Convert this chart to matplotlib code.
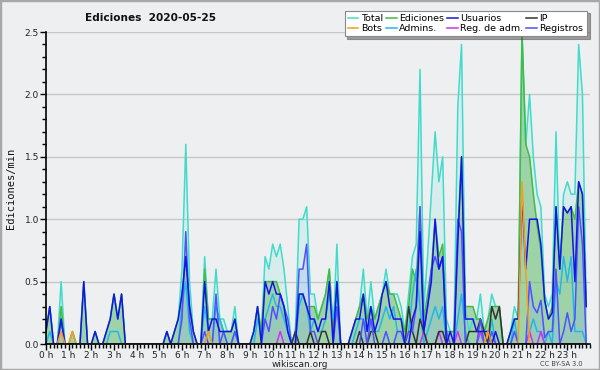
import matplotlib
matplotlib.use("Agg")
import matplotlib.pyplot as plt
import numpy as np
from matplotlib.ticker import MultipleLocator, FormatStrFormatter

# values per 10 minutes, one row per hour
total = [
    0.1, 0.3, 0, 0, 0.5, 0,
    0, 0.1, 0, 0, 0.5, 0,
    0, 0.1, 0, 0, 0.1, 0.2,
    0.4, 0.2, 0.4, 0, 0, 0,
    0, 0, 0, 0, 0, 0,
    0, 0, 0.1, 0, 0.1, 0.2,
    0.6, 1.6, 0.5, 0.1, 0, 0,
    0.7, 0.2, 0.2, 0.6, 0.2, 0.2,
    0.1, 0.1, 0.3, 0, 0, 0,
    0, 0.1, 0.3, 0.1, 0.7, 0.6,
    0.8, 0.7, 0.8, 0.6, 0.3, 0,
    0.1, 1.0, 1.0, 1.1, 0.4, 0.4,
    0.2, 0.3, 0.4, 0.6, 0.1, 0.8,
    0, 0, 0, 0.1, 0.2, 0.3,
    0.6, 0.2, 0.5, 0.2, 0.3, 0.4,
    0.6, 0.4, 0.4, 0.4, 0.3, 0.1,
    0.4, 0.7, 0.8, 2.2, 0.3, 0.7,
    1.2, 1.7, 1.3, 1.5, 0.2, 0.1,
    0.1, 1.9, 2.4, 0.3, 0.1, 0.2,
    0.2, 0.4, 0.1, 0.2, 0.4, 0.3,
    0.3, 0, 0, 0.1, 0.3, 0.2,
    2.5, 1.6, 2.0, 1.5, 1.2, 1.1,
    0.4, 0.3, 0.4, 1.7, 0.6, 1.2,
    1.3, 1.2, 1.2, 2.4, 2.0, 0.3,
]
ediciones = [
    0.1, 0.3, 0, 0, 0.3, 0,
    0, 0.1, 0, 0, 0.5, 0,
    0, 0.1, 0, 0, 0.1, 0.2,
    0.4, 0.2, 0.4, 0, 0, 0,
    0, 0, 0, 0, 0, 0,
    0, 0, 0.1, 0, 0.1, 0.2,
    0.4, 0.7, 0.3, 0.1, 0, 0,
    0.6, 0.2, 0.2, 0.2, 0.2, 0.1,
    0.1, 0.1, 0.2, 0, 0, 0,
    0, 0.1, 0.3, 0.1, 0.5, 0.5,
    0.5, 0.5, 0.4, 0.3, 0.1, 0,
    0.1, 0.4, 0.4, 0.3, 0.3, 0.3,
    0.2, 0.3, 0.4, 0.6, 0.1, 0.5,
    0, 0, 0, 0.1, 0.2, 0.3,
    0.4, 0.2, 0.3, 0.2, 0.3, 0.4,
    0.5, 0.4, 0.4, 0.3, 0.2, 0.1,
    0.3, 0.6, 0.5, 1.1, 0.2, 0.4,
    0.6, 1.0, 0.7, 0.8, 0.1, 0.1,
    0.1, 0.9, 1.5, 0.3, 0.3, 0.3,
    0.2, 0.2, 0.1, 0.2, 0.3, 0.3,
    0.3, 0, 0, 0.1, 0.2, 0.2,
    2.5, 1.6, 1.5, 1.2, 0.95, 0.75,
    0.35, 0.2, 0.3, 1.1, 0.6, 1.1,
    1.05, 1.1, 1.0, 1.3, 1.2, 0.3,
]
usuarios = [
    0.1, 0.3, 0, 0, 0.2, 0,
    0, 0, 0, 0, 0.5, 0,
    0, 0.1, 0, 0, 0.1, 0.2,
    0.4, 0.2, 0.4, 0, 0, 0,
    0, 0, 0, 0, 0, 0,
    0, 0, 0.1, 0, 0.1, 0.2,
    0.4, 0.7, 0.3, 0.1, 0, 0,
    0.5, 0.1, 0.2, 0.2, 0.1, 0.1,
    0.1, 0.1, 0.2, 0, 0, 0,
    0, 0.1, 0.3, 0, 0.5, 0.4,
    0.5, 0.4, 0.4, 0.3, 0.1, 0,
    0, 0.4, 0.4, 0.3, 0.2, 0.2,
    0.1, 0.2, 0.2, 0.5, 0, 0.5,
    0, 0, 0, 0.1, 0.2, 0.2,
    0.4, 0.1, 0.3, 0.1, 0.2, 0.4,
    0.5, 0.3, 0.2, 0.2, 0.2, 0,
    0, 0.2, 0.3, 0.9, 0.1, 0.3,
    0.5, 1.0, 0.6, 0.7, 0, 0.1,
    0, 0.8, 1.5, 0.2, 0.2, 0.2,
    0.1, 0.1, 0.1, 0.1, 0, 0.1,
    0, 0, 0, 0.1, 0.2, 0.2,
    1.2, 0.6, 1.0, 1.0, 1.0, 0.8,
    0.35, 0.2, 0.25, 1.1, 0.6, 1.1,
    1.05, 1.1, 0.5, 1.3, 1.2, 0.3,
]
ip = [
    0, 0, 0, 0, 0, 0,
    0, 0, 0, 0, 0, 0,
    0, 0, 0, 0, 0, 0,
    0, 0, 0, 0, 0, 0,
    0, 0, 0, 0, 0, 0,
    0, 0, 0, 0, 0, 0,
    0, 0, 0, 0, 0, 0,
    0, 0, 0, 0, 0, 0,
    0, 0, 0, 0, 0, 0,
    0, 0, 0, 0, 0, 0,
    0, 0, 0, 0, 0, 0,
    0.1, 0, 0, 0, 0.1, 0,
    0, 0.1, 0.1, 0, 0, 0,
    0, 0, 0, 0, 0, 0.1,
    0, 0, 0.1, 0.1, 0, 0,
    0, 0, 0, 0, 0, 0,
    0.3, 0.1, 0, 0.2, 0.1, 0,
    0, 0, 0.1, 0.1, 0, 0,
    0, 0, 0, 0, 0.1, 0.1,
    0.1, 0.2, 0.1, 0, 0.3, 0.2,
    0.3, 0, 0, 0, 0, 0,
    0, 0, 0, 0, 0, 0,
    0, 0, 0, 0, 0, 0,
    0, 0, 0, 0, 0, 0,
]
bots = [
    0, 0, 0, 0, 0.1, 0,
    0, 0.1, 0, 0, 0, 0,
    0, 0, 0, 0, 0, 0,
    0, 0, 0, 0, 0, 0,
    0, 0, 0, 0, 0, 0,
    0, 0, 0, 0, 0, 0,
    0, 0, 0, 0, 0, 0,
    0, 0.1, 0, 0, 0, 0,
    0, 0, 0, 0, 0, 0,
    0, 0, 0, 0, 0, 0,
    0, 0, 0, 0, 0, 0,
    0, 0, 0, 0, 0, 0,
    0, 0, 0, 0, 0, 0,
    0, 0, 0, 0, 0, 0,
    0, 0, 0, 0, 0, 0,
    0, 0, 0, 0, 0, 0,
    0, 0, 0, 0, 0, 0,
    0, 0, 0, 0, 0, 0,
    0, 0, 0, 0, 0, 0,
    0, 0, 0, 0.1, 0, 0,
    0, 0, 0, 0, 0, 0,
    1.3, 0.6, 0, 0, 0, 0,
    0, 0, 0, 0, 0, 0,
    0, 0, 0, 0, 0, 0,
]
admins = [
    0, 0.1, 0, 0, 0.2, 0,
    0, 0, 0, 0, 0, 0,
    0, 0, 0, 0, 0, 0.1,
    0.1, 0.1, 0, 0, 0, 0,
    0, 0, 0, 0, 0, 0,
    0, 0, 0, 0, 0, 0,
    0.3, 0.5, 0.1, 0, 0, 0,
    0.3, 0.1, 0, 0.3, 0.2, 0.1,
    0, 0, 0.1, 0, 0, 0,
    0, 0, 0.2, 0.1, 0.2, 0.3,
    0.4, 0.3, 0.3, 0.2, 0.1, 0,
    0, 0.3, 0.4, 0.3, 0.1, 0.2,
    0.1, 0.1, 0.2, 0.4, 0.2, 0.4,
    0, 0, 0, 0, 0.1, 0.2,
    0.2, 0.1, 0.2, 0.1, 0.1, 0.2,
    0.3, 0.2, 0.3, 0.1, 0.1, 0,
    0.1, 0.4, 0.6, 0.3, 0, 0.1,
    0.2, 0.3, 0.2, 0.3, 0, 0,
    0, 0.2, 0.4, 0.1, 0, 0,
    0, 0.1, 0, 0, 0.2, 0,
    0, 0, 0, 0, 0.2, 0,
    0, 0, 0.1, 0.2, 0.1, 0.1,
    0, 0.1, 0, 0.5, 0.4, 0.7,
    0.5, 0.7, 0.1, 0.1, 0.1, 0,
]
reg_adm = [
    0, 0, 0, 0, 0, 0,
    0, 0, 0, 0, 0, 0,
    0, 0, 0, 0, 0, 0,
    0, 0, 0, 0, 0, 0,
    0, 0, 0, 0, 0, 0,
    0, 0, 0, 0, 0, 0,
    0, 0, 0, 0, 0, 0,
    0, 0, 0, 0, 0, 0,
    0, 0, 0, 0, 0, 0,
    0, 0, 0, 0, 0, 0,
    0, 0, 0.1, 0, 0, 0,
    0, 0, 0, 0, 0, 0,
    0, 0, 0, 0, 0, 0,
    0, 0, 0, 0, 0, 0,
    0, 0, 0, 0, 0, 0,
    0, 0, 0, 0, 0, 0,
    0, 0, 0, 0, 0.1, 0,
    0, 0, 0.1, 0, 0, 0,
    0, 0.1, 0, 0, 0, 0,
    0, 0.1, 0, 0, 0, 0,
    0, 0, 0, 0, 0, 0,
    0, 0, 0.1, 0, 0, 0.1,
    0, 0, 0, 0, 0, 0,
    0, 0, 0, 0, 0, 0,
]
registros = [
    0, 0, 0, 0, 0.2, 0,
    0, 0, 0, 0, 0, 0,
    0, 0, 0, 0, 0, 0,
    0, 0, 0, 0, 0, 0,
    0, 0, 0, 0, 0, 0,
    0, 0, 0, 0, 0, 0,
    0.2, 0.9, 0.2, 0, 0, 0,
    0.1, 0, 0, 0.4, 0, 0.1,
    0, 0, 0.1, 0, 0, 0,
    0, 0, 0, 0, 0.2, 0.1,
    0.3, 0.2, 0.4, 0.3, 0.2, 0,
    0, 0.6, 0.6, 0.8, 0.1, 0.1,
    0, 0, 0, 0, 0, 0.3,
    0, 0, 0, 0, 0, 0,
    0.2, 0, 0.2, 0, 0, 0,
    0.1, 0, 0, 0.1, 0.1, 0,
    0.1, 0.1, 0.3, 1.1, 0.1, 0.3,
    0.6, 0.7, 0.6, 0.7, 0.1, 0,
    0, 1.0, 0.9, 0, 0, 0,
    0, 0.2, 0, 0, 0.1, 0,
    0, 0, 0, 0, 0.1, 0,
    0, 0, 0.5, 0.3, 0.25, 0.35,
    0.05, 0.1, 0.1, 0.6, 0, 0.1,
    0.25, 0.1, 0.2, 1.1, 0.8, 0,
]
hour_labels = [f"{h} h" for h in range(24)]

BG = "#eeeff1"
fig = plt.figure(figsize=(6.0, 3.7), dpi=100, facecolor=BG)
fig.patches.append(plt.Rectangle((0, 0), 1, 1, transform=fig.transFigure,
                                 fill=False, edgecolor="#a8a8a8", lw=2.5))
ax = fig.add_axes([46 / 600, 26 / 370, 544 / 600, 312 / 370])
ax.set_facecolor(BG)

x = np.arange(len(total)) / 6.0

c_total = "#40dccb"
c_ed = "#44bb44"
c_usu = "#1414e6"
c_ip = "#333333"
c_bots = "#ff9a1a"
c_adm = "#22b8e6"
c_regadm = "#cc33ee"
c_reg = "#5050ff"

ax.fill_between(x, total, color=c_total, alpha=0.13, lw=0)
ax.fill_between(x, ediciones, color="#66bb66", alpha=0.50, lw=0)
ax.fill_between(x, registros, color="#88b0ee", alpha=0.25, lw=0)

lw = 1.1
l_total, = ax.plot(x, total, color=c_total, lw=lw, label="Total")
l_ed, = ax.plot(x, ediciones, color=c_ed, lw=lw, label="Ediciones")
l_adm, = ax.plot(x, admins, color=c_adm, lw=lw, label="Admins.")
l_regadm, = ax.plot(x, reg_adm, color=c_regadm, lw=lw, label="Reg. de adm.")
l_ip, = ax.plot(x, ip, color=c_ip, lw=lw, label="IP")
l_reg, = ax.plot(x, registros, color=c_reg, lw=lw, label="Registros")
l_usu, = ax.plot(x, usuarios, color=c_usu, lw=lw, label="Usuarios")
l_bots, = ax.plot(x, bots, color=c_bots, lw=lw, label="Bots")

ax.set_xlim(0, 24)
ax.set_ylim(0, 2.5)
ax.set_xticks(range(24))
ax.set_xticklabels(hour_labels)
ax.xaxis.set_minor_locator(MultipleLocator(1 / 6))
ax.yaxis.set_major_locator(MultipleLocator(0.5))
ax.yaxis.set_minor_locator(MultipleLocator(0.1))
ax.yaxis.set_major_formatter(FormatStrFormatter("%.1f"))
ax.tick_params(axis="both", which="major", direction="out", length=4, width=1,
               labelsize=6.5, pad=1, color="black", labelcolor="#222222")
ax.tick_params(axis="both", which="minor", direction="out", length=3, width=1,
               color="black")

ax.grid(axis="y", which="major", color="#c8c8c8", lw=1)
ax.set_axisbelow(True)
for s in ("top", "right"):
    ax.spines[s].set_visible(False)
ax.spines["left"].set_linewidth(1.2)
ax.spines["bottom"].set_linewidth(1.2)

fig.text(0.142, 0.952, "Ediciones  2020-05-25", fontsize=7.6, fontweight="bold",
         va="center", ha="left", color="#111111")
fig.text(0.019, 0.49, "Ediciones/min", rotation=90, fontsize=7.5, va="center",
         ha="center", family="DejaVu Sans Mono", color="#111111")
fig.text(0.5, 0.016, "wikiscan.org", fontsize=6.5, ha="center", va="center",
         color="#222222")
fig.text(0.935, 0.016, "CC BY-SA 3.0", fontsize=4.8, ha="center", va="center",
         color="#444444")

handles = [l_total, l_bots, l_ed, l_adm, l_usu, l_regadm, l_ip, l_reg]
leg = fig.legend(handles=handles, labels=[h.get_label() for h in handles],
                 ncol=4, loc="upper right", bbox_to_anchor=(0.986, 0.984),
                 fontsize=6.8, frameon=True, fancybox=False, shadow=True,
                 handlelength=1.1, handletextpad=0.3, columnspacing=0.3,
                 labelspacing=0.1, borderpad=0.35, edgecolor="#888888")
leg.get_frame().set_facecolor("white")
leg.get_frame().set_linewidth(0.8)

fig.savefig("out.png", dpi=100, facecolor=BG)
